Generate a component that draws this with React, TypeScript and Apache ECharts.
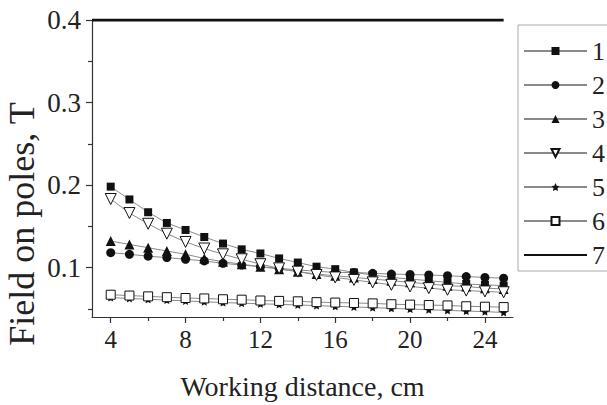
import React, { useEffect, useRef } from "react";
import * as echarts from "echarts";

const distances = [4, 5, 6, 7, 8, 9, 10, 11, 12, 13, 14, 15, 16, 17, 18, 19, 20, 21, 22, 23, 24, 25];
const s1 = [0.198, 0.1825, 0.167, 0.154, 0.1455, 0.137, 0.129, 0.122, 0.117, 0.111, 0.106, 0.101, 0.098, 0.094, 0.091, 0.088, 0.086, 0.084, 0.082, 0.080, 0.079, 0.078];
const s2 = [0.118, 0.116, 0.1137, 0.112, 0.110, 0.108, 0.105, 0.103, 0.101, 0.099, 0.097, 0.0955, 0.094, 0.094, 0.093, 0.092, 0.0915, 0.091, 0.090, 0.089, 0.088, 0.087];
const s3 = [0.132, 0.128, 0.124, 0.120, 0.116, 0.111, 0.107, 0.104, 0.101, 0.098, 0.095, 0.092, 0.090, 0.088, 0.086, 0.084, 0.082, 0.080, 0.078, 0.077, 0.075, 0.074];
const s4 = [0.183, 0.166, 0.153, 0.141, 0.131, 0.123, 0.116, 0.110, 0.104, 0.099, 0.095, 0.091, 0.088, 0.085, 0.082, 0.079, 0.077, 0.075, 0.073, 0.072, 0.071, 0.070];
const s5 = [0.0635, 0.0625, 0.0615, 0.0605, 0.0595, 0.0585, 0.0575, 0.0568, 0.056, 0.0553, 0.0546, 0.0538, 0.053, 0.0522, 0.0514, 0.0505, 0.0496, 0.0488, 0.048, 0.0472, 0.0465, 0.0455];
const s6 = [0.067, 0.066, 0.065, 0.064, 0.063, 0.0625, 0.0615, 0.061, 0.060, 0.0595, 0.059, 0.058, 0.0575, 0.057, 0.0565, 0.0555, 0.055, 0.0545, 0.054, 0.053, 0.0525, 0.052];
const s7x = [3, 25];
const s7 = [0.4, 0.4];
const seriesNames = ["1", "2", "3", "4", "5", "6", "7"];
const xLabels = [4, 8, 12, 16, 20, 24];
const xMinor = [6, 10, 14, 18, 22];
const yLabels = [0.1, 0.2, 0.3, 0.4];
const yMinor = [0.05, 0.15, 0.25, 0.35];

const FONT = "Liberation Serif";
const STAR = "path://M0,-10 L2.9,-4 9.5,-3.1 4.8,1.5 5.9,8.1 0,5 -5.9,8.1 -4.8,1.5 -9.5,-3.1 -2.9,-4 Z";

export default function App() {
  const ref = useRef<HTMLDivElement>(null);
  useEffect(() => {
    if (!ref.current) return;
    const chart = echarts.init(ref.current, null, { renderer: "svg" });
    const axisColor = "#333";
    const mk = (name: string, vals: number[], symbol: string, open: boolean, size: number, rotate = 0) => ({
      name,
      type: "line",
      data: distances.map((d, i) => [d, vals[i]]),
      symbol,
      symbolSize: size,
      symbolRotate: rotate,
      showSymbol: true,
      lineStyle: { color: "#8a8a8a", width: 1 },
      itemStyle: open
        ? { color: "#ffffff", borderColor: "#111", borderWidth: 1 }
        : { color: "#111", borderColor: "#111", borderWidth: 0 },
      z: 3,
    });
    const option: any = {
      animation: false,
      backgroundColor: "#fff",
      textStyle: { fontFamily: FONT },
      grid: { left: 92, right: 94, top: 20, bottom: 87 },
      xAxis: [
        {
          type: "value",
          min: 3,
          max: 25.5,
          axisLine: { show: true, lineStyle: { color: axisColor, width: 1.2 } },
          axisTick: { show: true, customValues: xLabels, length: 6, lineStyle: { color: axisColor, width: 1.2 } },
          axisLabel: { customValues: xLabels, fontFamily: FONT, fontSize: 25, color: "#222", margin: 10 },
          splitLine: { show: false },
          name: "Working distance, cm",
          nameLocation: "middle",
          nameGap: 55,
          nameTextStyle: { fontFamily: FONT, fontSize: 28, color: "#222" },
        },
        {
          type: "value",
          min: 3,
          max: 25.5,
          position: "bottom",
          axisLine: { show: false },
          axisTick: { show: true, customValues: xMinor, length: 4, lineStyle: { color: axisColor, width: 1.2 } },
          axisLabel: { show: false },
          splitLine: { show: false },
        },
      ],
      yAxis: [
        {
          type: "value",
          min: 0.04,
          max: 0.4,
          axisLine: { show: true, lineStyle: { color: axisColor, width: 1.2 } },
          axisTick: { show: true, customValues: yLabels, length: 6, lineStyle: { color: axisColor, width: 1.2 } },
          axisLabel: { customValues: yLabels, fontFamily: FONT, fontSize: 27, color: "#222", margin: 11, formatter: (v: number) => v.toFixed(1) },
          splitLine: { show: false },
        },
        {
          type: "value",
          min: 0.04,
          max: 0.4,
          position: "left",
          axisLine: { show: false },
          axisTick: { show: true, customValues: yMinor, length: 4, lineStyle: { color: axisColor, width: 1.2 } },
          axisLabel: { show: false },
          splitLine: { show: false },
        },
      ],
      legend: {
        orient: "vertical",
        left: 518,
        top: 25,
        padding: [13, 12, 3, 5],
        itemWidth: 63,
        itemHeight: 10,
        itemGap: 8,
        borderColor: "#aaa",
        borderWidth: 1,
        backgroundColor: "#fff",
        textStyle: { fontFamily: FONT, fontSize: 26, color: "#222" },
        data: [
          ...seriesNames.slice(0, 6),
          { name: seriesNames[6], itemStyle: { opacity: 0 } },
        ],
      },
      graphic: [
        {
          type: "text",
          x: 22,
          y: 224,
          rotation: Math.PI / 2,
          style: {
            text: "Field on poles, T",
            font: `36px "${FONT}"`,
            fill: "#222",
            align: "center",
            verticalAlign: "middle",
          },
        },
      ],
      series: [
        mk(seriesNames[0], s1, "rect", false, 8),
        mk(seriesNames[1], s2, "circle", false, 9),
        mk(seriesNames[2], s3, "triangle", false, 10),
        mk(seriesNames[3], s4, "triangle", true, 11, 180),
        mk(seriesNames[4], s5, STAR, false, 8),
        mk(seriesNames[5], s6, "rect", true, 9),
        {
          name: seriesNames[6],
          type: "line",
          data: s7x.map((x, i) => [x, s7[i]]),
          symbol: "none",
          lineStyle: { color: "#111", width: 3 },
          itemStyle: { color: "#111" },
          z: 4,
        },
      ],
    };
    chart.setOption(option);
    return () => chart.dispose();
  }, []);
  return <div ref={ref} style={{ position: "absolute", left: 0, top: 0, width: 607, height: 405 }} />;
}
